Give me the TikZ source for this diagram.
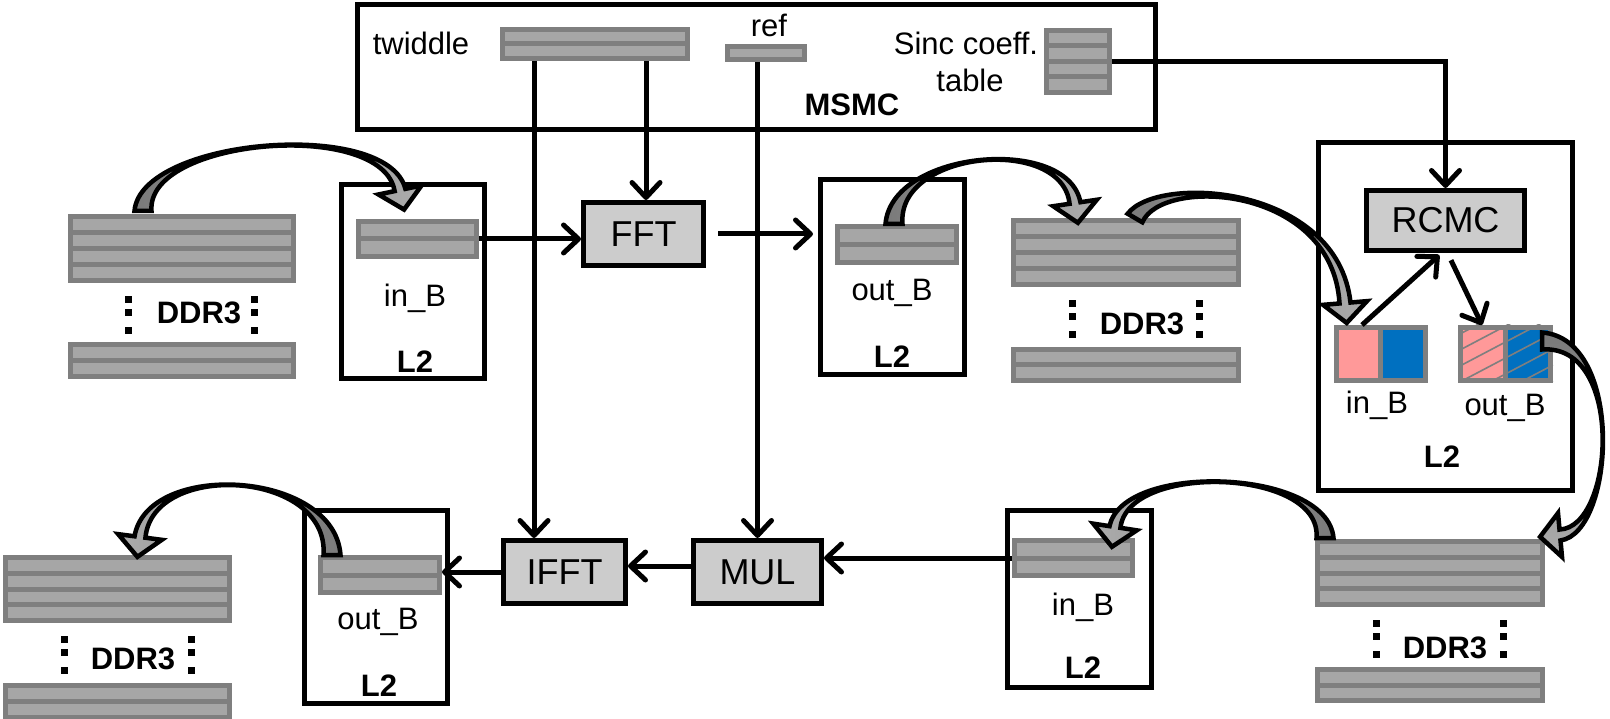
\documentclass[tikz,border=0pt]{standalone}
\usepackage{fontspec}
\setmainfont{Liberation Sans}
\usetikzlibrary{calc,arrows.meta}

\definecolor{bufdark}{HTML}{7F7F7F}
\definecolor{buflight}{HTML}{A6A6A6}
\definecolor{boxgray}{HTML}{CCCCCC}
\definecolor{pinkc}{HTML}{FF9999}
\definecolor{bluec}{HTML}{0070C0}
\definecolor{fatdark}{HTML}{7A7A7A}
\definecolor{fatlight}{HTML}{ACACAC}

% striped memory buffer: name, left, top, right, bottom, number of stripes
\newcommand\membuf[6]{%
  \fill[bufdark] (#2,#3) rectangle (#4,#5);
  \pgfmathsetmacro\bufpitch{(#5-#3-5)/#6}
  \foreach \k in {1,...,#6}{
    \fill[buflight] ({#2+5},{#3+5+(\k-1)*\bufpitch}) rectangle ({#4-5},{#3+\k*\bufpitch});
  }
  \node[anchorbox, minimum width={(#4-#2)*1pt}, minimum height={(#5-#3)*1pt}]
    (#1) at ({(#2+#4)/2},{(#3+#5)/2}) {};
}

% vertical ellipsis of three square dots
\newcommand\stackdots[2]{%
  \foreach \dy in {0,13,31}{
    \fill ({#1-3.5},{#2+\dy-3.5}) rectangle ({#1+3.5},{#2+\dy+3.5});
  }
}

% block arrow along a cubic curve: start, control 1, control 2, head base, shading
\def\fatTail{8.5pt}
\def\fatMid{2.5pt}
\def\fatNeck{5.5pt}
\def\fatHead{22pt}
\def\fatLen{20pt}
\newcommand\fatarrow[5]{%
  \path (#1) coordinate (fa0) (#4) coordinate (fa3);
  \path (#2) coordinate (fa1) (#3) coordinate (fa2);
  \path[fatedge,#5]
    ($(fa0)!\fatTail!90:(fa1)$)
      .. controls ($(fa1)!\fatMid!-90:(fa0)$) and ($(fa2)!\fatMid!90:(fa3)$) ..
    ($(fa3)!\fatNeck!-90:(fa2)$)
    -- ($(fa3)!\fatHead!-90:(fa2)$)
    -- ($(fa3)!\fatLen!180:(fa2)$)
    -- ($(fa3)!\fatHead!90:(fa2)$)
    -- ($(fa3)!\fatNeck!90:(fa2)$)
      .. controls ($(fa2)!\fatMid!-90:(fa3)$) and ($(fa1)!\fatMid!90:(fa0)$) ..
    ($(fa0)!\fatTail!-90:(fa1)$) -- cycle;
}

\tikzset{
  anchorbox/.style={inner sep=0pt, outer sep=0pt, draw=none},
  cont/.style={draw, line width=5pt, inner sep=0pt},
  procbox/.style={draw, line width=5pt, fill=boxgray, inner sep=0pt,
    font=\fontsize{36}{40}\selectfont},
  txt/.style={inner sep=0pt, font=\fontsize{31}{36}\selectfont},
  btxt/.style={inner sep=0pt, font=\bfseries\fontsize{31}{36}\selectfont},
  conn/.style={draw, line width=5pt,
    -{Straight Barb[length=15pt,width=28pt,round]}},
  fatedge/.style={draw=black, line width=4.5pt, line join=miter, miter limit=3},
  hatch/.style={draw=bufdark, line width=1.6pt},
}

\begin{document}
\begin{tikzpicture}[x=1pt, y=-1pt]
\useasboundingbox (0,0) rectangle (1610,719);

% ---------- containers ----------
\node[cont, minimum width=798pt, minimum height=125pt] (MSMCbox) at (756.5,67) {};
\node[cont, minimum width=143pt, minimum height=194pt] (L2a) at (413,281.5) {};
\node[cont, minimum width=144pt, minimum height=195pt] (L2b) at (892.5,277) {};
\node[cont, minimum width=254pt, minimum height=348pt] (L2big) at (1445.5,316.5) {};
\node[cont, minimum width=144pt, minimum height=177pt] (L2c) at (1079.5,599) {};
\node[cont, minimum width=143pt, minimum height=193pt] (L2d) at (376,607) {};

% ---------- memory buffers ----------
\membuf{twiddle}{500}{27}{690}{61}{2}
\membuf{ref}{725}{44}{807}{62}{1}
\membuf{sinc}{1044}{28}{1112}{95}{4}
\membuf{ddrA}{68}{214}{296}{283}{4}
\membuf{ddrAb}{68}{342}{296}{379}{2}
\membuf{inB1}{356}{219}{479}{259}{2}
\membuf{outB1}{835}{224}{959}{265}{2}
\membuf{ddrB}{1011}{218}{1241}{287}{4}
\membuf{ddrBb}{1011}{347}{1241}{383}{2}
\membuf{ddrC}{1315}{539}{1545}{607}{4}
\membuf{ddrCb}{1315}{667}{1545}{703}{2}
\membuf{inB2}{1012}{538}{1135}{578}{2}
\membuf{ddrD}{3}{555}{232}{623}{4}
\membuf{ddrDb}{3}{683}{232}{720}{2}
\membuf{outB2}{318}{555}{442}{595}{2}

% ---------- split buffers next to RCMC ----------
\fill[bufdark] (1334,325) rectangle (1428,383);
\fill[pinkc] (1339,330) rectangle (1378,378);
\fill[bluec] (1383,330) rectangle (1423,378);
\node[anchorbox, minimum width=94pt, minimum height=58pt] (inSq) at (1381,354) {};

\fill[bufdark] (1458,325) rectangle (1553,383);
\fill[pinkc] (1463,330) rectangle (1503,378);
\fill[bluec] (1508,330) rectangle (1548,378);
\begin{scope}
  \clip (1458,325) rectangle (1553,383);
  \foreach \yy in {335,351,...,447}
    \draw[hatch] (1458,\yy) -- (1553,{\yy-50});
\end{scope}
\node[anchorbox, minimum width=95pt, minimum height=58pt] (outSq) at (1505.5,354) {};

% ---------- processing blocks ----------
\node[procbox, minimum width=120pt, minimum height=63pt] (FFT) at (643.5,234) {FFT};
\node[procbox, minimum width=122pt, minimum height=63pt] (IFFT) at (564.5,572) {IFFT};
\node[procbox, minimum width=128pt, minimum height=63pt] (MUL) at (757.5,572) {MUL};
\node[procbox, minimum width=158pt, minimum height=60pt] (RCMC) at (1445.5,220.5) {RCMC};

% ---------- data flow ----------
\coordinate (twA) at ([xshift=34pt]twiddle.south west);
\coordinate (twB) at ([xshift=146pt]twiddle.south west);
\draw[conn] (twA) -- (twA |- IFFT.north);
\draw[conn] (twB) -- (twB |- FFT.north);
\draw[conn] (MUL.north |- ref.south) -- (MUL.north);
\draw[conn] (sinc.east) -| (RCMC.north);
\draw[conn] (inB1.east) -- (inB1.east -| FFT.west);
\draw[conn, shorten <=12pt, shorten >=5pt] (FFT.east) -- (FFT.east -| L2b.west);
\draw[conn] (inB2.west) -- (inB2.west -| MUL.east);
\draw[conn] ([yshift=6pt]MUL.west) -- ([yshift=6pt]MUL.west -| IFFT.east);
\draw[conn] (IFFT.west) -- (IFFT.west -| outB2.east);
\draw[conn, shorten >=3pt] ([xshift=28pt]inSq.north west) -- ([xshift=-4pt]RCMC.south);
\draw[conn, shorten <=8pt] ([xshift=2pt]RCMC.south) -- ([xshift=24pt]outSq.north west);

% ---------- DMA transfers ----------
\fatarrow{[xshift=75pt,yshift=3pt]ddrA.north west}{$(fa0)+(0,-73)$}{$(fa3)+(-15,-72)$}%
  {[xshift=44pt,yshift=29pt]inB1.north west}{left color=fatdark,right color=fatlight}
\fatarrow{[xshift=59pt]outB1.north west}{$(fa0)+(0,-74)$}{$(fa3)+(-10,-68)$}%
  {[xshift=64pt,yshift=15pt]ddrB.north west}{left color=fatdark,right color=fatlight}
\fatarrow{[xshift=124pt]ddrB.north west}{$(fa0)+(25,-43)$}{$(fa3)+(-10,-118)$}%
  {[xshift=11pt,yshift=22pt]inSq.north west}{left color=fatdark,right color=fatlight}
\fatarrow{[xshift=84pt,yshift=-16pt]outSq.north west}{$(fa0)+(83,0)$}{$(fa3)+(55,-5)$}%
  {[xshift=15pt,yshift=4pt]ddrC.north east}{top color=fatdark,bottom color=fatlight}
\fatarrow{[xshift=10pt,yshift=1pt]ddrC.north west}{$(fa0)+(0,-70)$}{$(fa3)+(10,-65)$}%
  {[xshift=103pt,yshift=11pt]inB2.north west}{left color=fatlight,right color=fatdark}
\fatarrow{[xshift=14pt]outB2.north west}{$(fa0)+(0,-85)$}{$(fa3)+(10,-77)$}%
  {[xshift=137pt,yshift=18pt]ddrD.north west}{left color=fatlight,right color=fatdark}

% ---------- labels ----------
\node[txt] (tTw) at (421,43) {twiddle};
\node[txt] (tRef) at (769,25) {ref};
\node[txt] (tSinc) at (966,43) {Sinc coeff.};
\node[txt] (tTable) at (970,80) {table};
\node[btxt] (tMSMC) at (852,105) {MSMC};

\node[txt] (tInA) at (415,298) {in\_B};
\node[btxt] (tL2a) at (415,362) {L2};
\node[txt] (tOutB) at (892,293) {out\_B};
\node[btxt] (tL2b) at (892,357) {L2};
\node[txt] (tInR) at (1377,405) {in\_B};
\node[txt] (tOutR) at (1505,408) {out\_B};
\node[btxt] (tL2r) at (1442,457) {L2};
\node[txt] (tInC) at (1083,607) {in\_B};
\node[btxt] (tL2c) at (1083,668) {L2};
\node[txt] (tOutD) at (378,622) {out\_B};
\node[btxt] (tL2d) at (379,686) {L2};

\node[btxt] (tDA) at (199,313) {DDR3};
\node[btxt] (tDB) at (1142,324) {DDR3};
\node[btxt] (tDC) at (1445,648) {DDR3};
\node[btxt] (tDD) at (133,659) {DDR3};
\stackdots{128}{299.5}\stackdots{254}{299.5}
\stackdots{1072}{303.5}\stackdots{1199}{303.5}
\stackdots{1376}{623}\stackdots{1503}{623}
\stackdots{64}{639.5}\stackdots{191}{639.5}

\end{tikzpicture}
\end{document}
